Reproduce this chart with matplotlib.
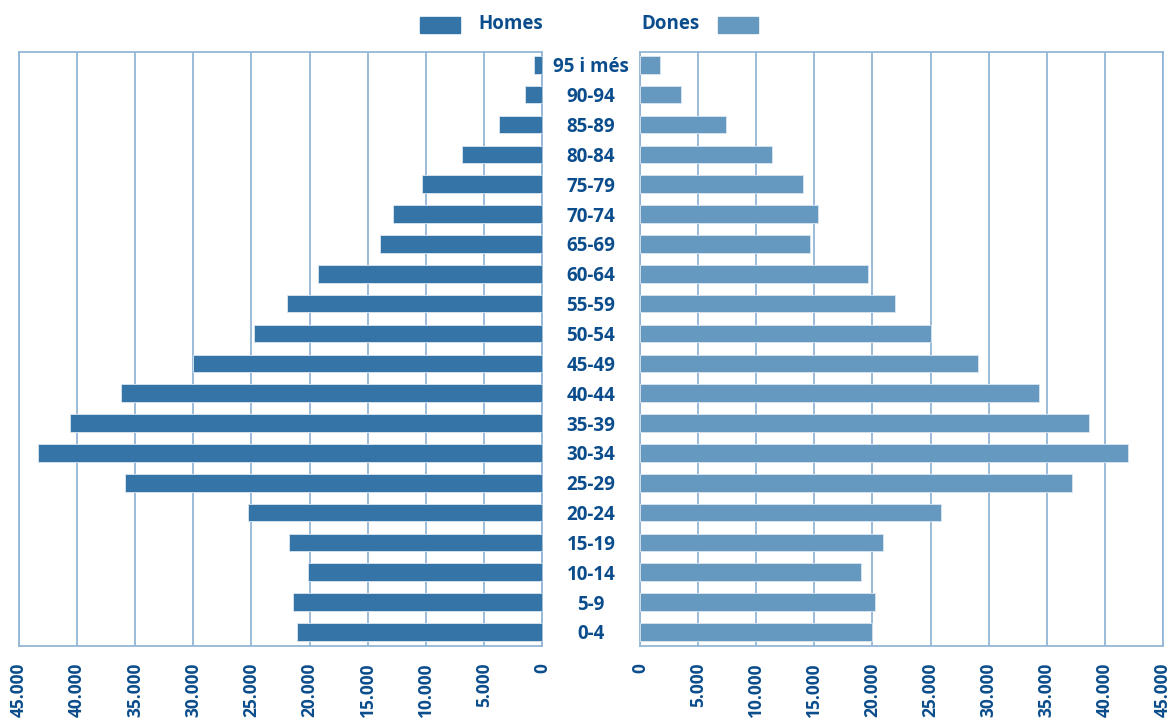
import matplotlib
matplotlib.use("Agg")
import matplotlib.pyplot as plt
from matplotlib.ticker import FuncFormatter, MultipleLocator
from matplotlib.patches import Rectangle

ages = ["0-4", "5-9", "10-14", "15-19", "20-24", "25-29", "30-34", "35-39",
        "40-44", "45-49", "50-54", "55-59", "60-64", "65-69", "70-74",
        "75-79", "80-84", "85-89", "90-94", "95 i més"]
homes = [21100, 21400, 20100, 21800, 25300, 35900, 43400, 40600, 36200, 30000,
         24800, 21900, 19300, 13900, 12800, 10300, 6900, 3700, 1500, 700]
dones = [20000, 20200, 19050, 20900, 25900, 37200, 42000, 38600, 34300, 29100,
         25000, 21900, 19600, 14600, 15300, 14000, 11350, 7400, 3500, 1700]

c_homes = "#3474a6"
c_dones = "#6699bf"
c_text = "#0b4d8c"
c_grid = "#93b6d8"

plt.rcParams["font.family"] = ["Open Sans", "DejaVu Sans"]

fig = plt.figure(figsize=(11.72, 7.26), dpi=100)
W, H = 1172, 726
ax1 = fig.add_axes([19 / W, 1 - 646 / H, 523 / W, 594 / H])
ax2 = fig.add_axes([640 / W, 1 - 646 / H, 523 / W, 594 / H])

y = list(range(len(ages)))
fmt = FuncFormatter(lambda v, p: f"{int(v):,}".replace(",", "."))

ax1.barh(y, homes, height=0.59, color=c_homes, edgecolor="#dbe6f0", linewidth=0.6, zorder=3)
ax2.barh(y, dones, height=0.59, color=c_dones, edgecolor="#dbe6f0", linewidth=0.6, zorder=3)

ax1.set_xlim(45000, 0)
ax2.set_xlim(0, 45000)

for ax in (ax1, ax2):
    ax.set_ylim(-0.47, 19.43)
    ax.xaxis.set_major_locator(MultipleLocator(5000))
    ax.xaxis.set_major_formatter(fmt)
    ax.grid(axis="x", color=c_grid, linewidth=1.3, zorder=0)
    for s in ax.spines.values():
        s.set_color(c_grid)
        s.set_linewidth(1.3)
    ax.tick_params(axis="x", length=0, pad=12, labelsize=12.5, labelcolor=c_text, labelrotation=90)
    for lab in ax.get_xticklabels():
        lab.set_fontweight("bold")
        lab.set_va("top")

ax1.set_yticks([])
ax2.set_yticks(y)
ax2.set_yticklabels(ages, ha="center", fontsize=13.5, fontweight="bold", color=c_text)
ax2.tick_params(axis="y", length=0, pad=35.3)

# legend
fig.patches.append(Rectangle((420 / W, 1 - 33 / H), 40 / W, 16 / H,
                             transform=fig.transFigure, color=c_homes))
fig.patches.append(Rectangle((718 / W, 1 - 33 / H), 40 / W, 16 / H,
                             transform=fig.transFigure, color=c_dones))
fig.text(478 / W, 1 - 24 / H, "Homes", fontsize=13.5, fontweight="bold", color=c_text, va="center", ha="left")
fig.text(700 / W, 1 - 24 / H, "Dones", fontsize=13.5, fontweight="bold", color=c_text, va="center", ha="right")

fig.savefig("out.png", dpi=100)
